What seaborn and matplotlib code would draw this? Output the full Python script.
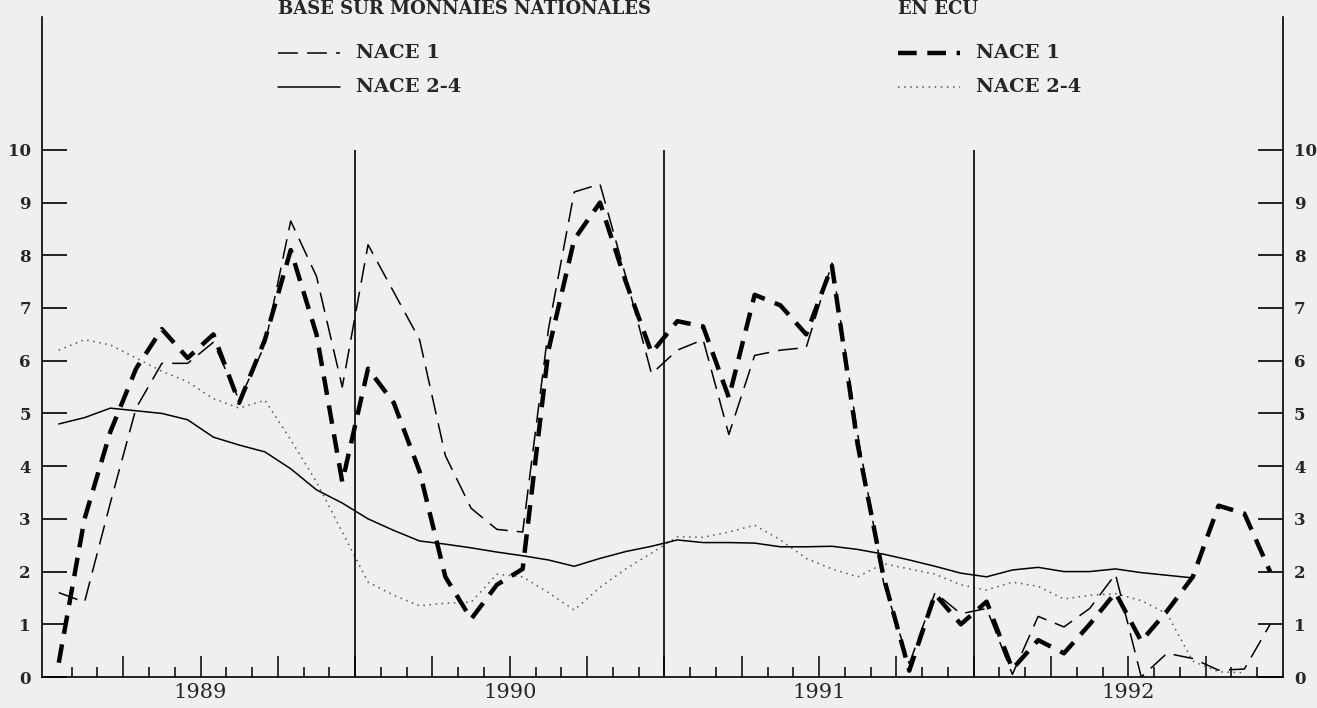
import numpy as np
import pandas as pd
import matplotlib
matplotlib.use("Agg")
import matplotlib.pyplot as plt
import seaborn as sns
from matplotlib.lines import Line2D
from matplotlib.ticker import FixedLocator, FixedFormatter

# ---------------- data (monthly, Jan 1989 .. Dec 1992) ----------------
year_labels = ["1989", "1990", "1991", "1992"]
y_ticks = [0, 1, 2, 3, 4, 5, 6, 7, 8, 9, 10]

# NACE 1, en ECU (thick dashed)
nace1_ecu = [0.27, 3.0, 4.65, 5.85, 6.6, 6.05, 6.5, 5.2, 6.4, 8.1, 6.5, 3.7,
             5.85, 5.2, 3.9, 1.9, 1.1, 1.75, 2.05, 6.2, 8.3, 9.0, 7.5, 6.15,
             6.75, 6.65, 5.3, 7.25, 7.05, 6.5, 7.8, 4.4, 1.9, 0.12, 1.57, 1.0,
             1.43, 0.15, 0.7, 0.45, 1.0, 1.6, 0.68, 1.25, 1.9, 3.25, 3.1, 2.0]
# NACE 1, base monnaies nationales (thin dashed)
nace1_nat = [1.6, 1.42, 3.3, 5.1, 5.95, 5.95, 6.35, 5.25, 6.3, 8.65, 7.6, 5.5,
             8.2, 7.3, 6.4, 4.2, 3.2, 2.8, 2.75, 6.6, 9.2, 9.35, 7.6, 5.75,
             6.2, 6.4, 4.6, 6.1, 6.2, 6.25, 7.85, 4.6, 1.8, 0.25, 1.6, 1.2,
             1.3, 0.05, 1.15, 0.95, 1.3, 1.95, 0.0, 0.45, 0.35, 0.13, 0.15, 1.0]
# NACE 2-4, base monnaies nationales (thin solid)
nace24_nat = [4.8, 4.92, 5.1, 5.05, 5.0, 4.88, 4.55, 4.4, 4.27, 3.95, 3.55, 3.3,
              3.0, 2.78, 2.58, 2.52, 2.45, 2.37, 2.3, 2.22, 2.1, 2.25, 2.38, 2.48,
              2.6, 2.55, 2.55, 2.54, 2.47, 2.47, 2.48, 2.42, 2.33, 2.22, 2.1, 1.97,
              1.9, 2.03, 2.08, 2.0, 2.0, 2.05, 1.98, 1.93, 1.88]
# NACE 2-4, en ECU (dotted)
nace24_ecu = [6.2, 6.4, 6.3, 6.05, 5.8, 5.6, 5.28, 5.1, 5.25, 4.5, 3.7, 2.75,
              1.8, 1.55, 1.35, 1.4, 1.42, 1.95, 1.9, 1.6, 1.27, 1.7, 2.05, 2.35,
              2.66, 2.65, 2.75, 2.88, 2.6, 2.25, 2.05, 1.9, 2.15, 2.05, 1.95, 1.75,
              1.65, 1.8, 1.72, 1.48, 1.55, 1.58, 1.45, 1.2, 0.3, 0.1, 0.08]

n_months = 48
month_centre = np.arange(n_months) + 0.5

# ---------------- style ----------------
sns.set_theme(style="white")
plt.rcParams["font.family"] = ["DejaVu Serif"]
plt.rcParams["font.weight"] = "bold"

BG = "#efefef"
W, H = 1317, 708
fig = plt.figure(figsize=(W / 100, H / 100), dpi=100, facecolor=BG)
ax = fig.add_axes([42 / W, 31 / H, 1241 / W, 660 / H], facecolor=BG)

def series(vals):
    return pd.DataFrame({"mois": month_centre[:len(vals)], "val": vals})

d = series(nace24_ecu)
sns.lineplot(data=d, x="mois", y="val", ax=ax, color="#555555", lw=1.1,
             linestyle=(0, (1, 3)), sort=False)
d = series(nace24_nat)
sns.lineplot(data=d, x="mois", y="val", ax=ax, color="black", lw=1.1, sort=False)
d = series(nace1_nat)
sns.lineplot(data=d, x="mois", y="val", ax=ax, color="black", lw=1.1,
             linestyle=(0, (13, 6)), sort=False)
d = series(nace1_ecu)
sns.lineplot(data=d, x="mois", y="val", ax=ax, color="black", lw=3.2,
             linestyle=(0, (4.2, 2.4)), sort=False)

# year separators
ax.vlines([12, 24, 36], 0, 10, color="black", lw=1.2)

ax.set_xlim(-0.15, n_months)
ax.set_ylim(0, 12.52)
ax.set_xlabel("")
ax.set_ylabel("")

# x ticks: long at quarters, short at months, year labels at mid-year
q_pos = list(range(3, n_months, 3))
q_lab = [year_labels[(p - 6) // 12] if (p - 6) % 12 == 0 else "" for p in q_pos]
ax.xaxis.set_major_locator(FixedLocator(q_pos))
ax.xaxis.set_major_formatter(FixedFormatter(q_lab))
ax.xaxis.set_minor_locator(FixedLocator([m for m in range(1, n_months) if m % 3]))
ax.tick_params(axis="x", which="major", direction="in", length=15, width=1.1,
               bottom=True, top=False, pad=4, labelsize=15, color="black")
ax.tick_params(axis="x", which="minor", direction="in", length=7, width=1.1,
               bottom=True, top=False, color="black")
for t in ax.get_xticklabels():
    t.set_fontweight("normal")

ax.yaxis.set_major_locator(FixedLocator(y_ticks))
ax.yaxis.set_major_formatter(FixedFormatter([str(v) for v in y_ticks]))
ax.tick_params(axis="y", which="major", direction="in", length=18, width=1.2,
               left=True, right=True, labelleft=True, labelright=True,
               pad=8, labelsize=12, color="black")

for s in ["left", "right", "bottom"]:
    ax.spines[s].set_color("black")
    ax.spines[s].set_linewidth(1.2)
ax.spines["top"].set_visible(False)

# ---------------- legend blocks ----------------
def fx(px):
    return px / W

def fy(py):
    return 1 - py / H

fig.text(fx(278), fy(14), "BASE SUR MONNAIES NATIONALES", fontsize=13,
         va="baseline", ha="left")
fig.text(fx(898), fy(14), "EN ECU", fontsize=13, va="baseline", ha="left")

legend_items = [
    (278, 53, dict(color="black", lw=1.1, linestyle=(0, (13, 6))), "NACE 1"),
    (278, 87, dict(color="black", lw=1.1), "NACE 2-4"),
    (898, 53, dict(color="black", lw=3.2, linestyle=(0, (4.2, 2.4))), "NACE 1"),
    (898, 87, dict(color="#555555", lw=1.1, linestyle=(0, (1, 3))), "NACE 2-4"),
]
for x0, y0, kw, lab in legend_items:
    fig.add_artist(Line2D([fx(x0), fx(x0 + 62)], [fy(y0), fy(y0)],
                          transform=fig.transFigure, **kw))
    fig.text(fx(x0 + 78), fy(y0), lab, fontsize=14, va="center", ha="left")

fig.savefig("out.png", dpi=100, facecolor=BG)
